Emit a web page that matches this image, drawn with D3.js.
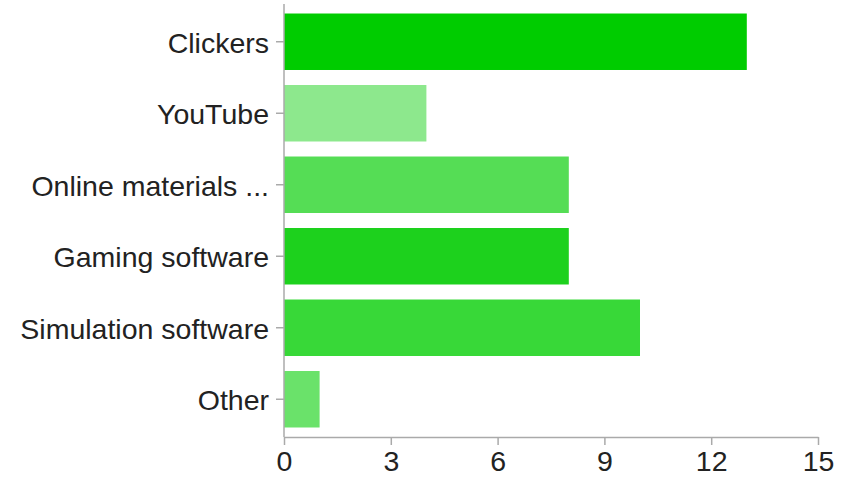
<!DOCTYPE html>
<html>
<head>
<meta charset="utf-8">
<script src="https://cdn.jsdelivr.net/npm/d3@7"></script>
<style>
  body { margin: 0; background: #fff; }
  svg text { font-family: "Liberation Sans", Arial, Helvetica, sans-serif; }
</style>
</head>
<body>
<svg id="chart" width="842" height="479"></svg>
<script>
const categories = ["Clickers", "YouTube", "Online materials ...", "Gaming software", "Simulation software", "Other"];
const values = [13, 4, 8, 8, 10, 1];
const barColors = ["#00cc00", "#8de88d", "#55dd55", "#1dd11d", "#38d838", "#6ae26a"];
const xTicks = [0, 3, 6, 9, 12, 15];

const svg = d3.select("#chart");
const mLeft = 284, mRight = 818, mTop = 6, mBottom = 435, axisY = 437;
const fontSize = 28.5;
const axisColor = "#aaaaaa";
const textColor = "#222222";

const x = d3.scaleLinear().domain([0, 15]).range([mLeft, mRight]);
const y = d3.scaleBand().domain(categories).range([mTop, mBottom]).paddingInner(0.21).paddingOuter(0.105);

// bars
svg.append("g").selectAll("rect").data(categories).join("rect")
  .attr("x", x(0))
  .attr("y", d => y(d))
  .attr("width", (d, i) => x(values[i]) - x(0))
  .attr("height", y.bandwidth())
  .attr("fill", (d, i) => barColors[i]);

// y axis
const yAxis = svg.append("g").attr("transform", `translate(${mLeft},0)`)
  .call(d3.axisLeft(y).tickSize(8).tickPadding(7).tickSizeOuter(0));
yAxis.select(".domain").remove();
yAxis.append("line").attr("x1", 0).attr("x2", 0).attr("y1", 4).attr("y2", axisY)
  .attr("stroke", axisColor).attr("stroke-width", 1.5);
yAxis.selectAll(".tick line").attr("stroke", axisColor).attr("stroke-width", 1.5);
yAxis.selectAll(".tick text").attr("fill", textColor).attr("dy", "0.38em").style("font-size", fontSize + "px");

// x axis
const xAxis = svg.append("g").attr("transform", `translate(0,${axisY})`)
  .call(d3.axisBottom(x).tickValues(xTicks).tickSize(8).tickPadding(6).tickSizeOuter(0));
xAxis.select(".domain").attr("stroke", axisColor).attr("stroke-width", 1.5);
xAxis.selectAll(".tick line").attr("stroke", axisColor).attr("stroke-width", 1.5);
xAxis.selectAll(".tick text").attr("fill", textColor).style("font-size", fontSize + "px");
</script>
</body>
</html>
